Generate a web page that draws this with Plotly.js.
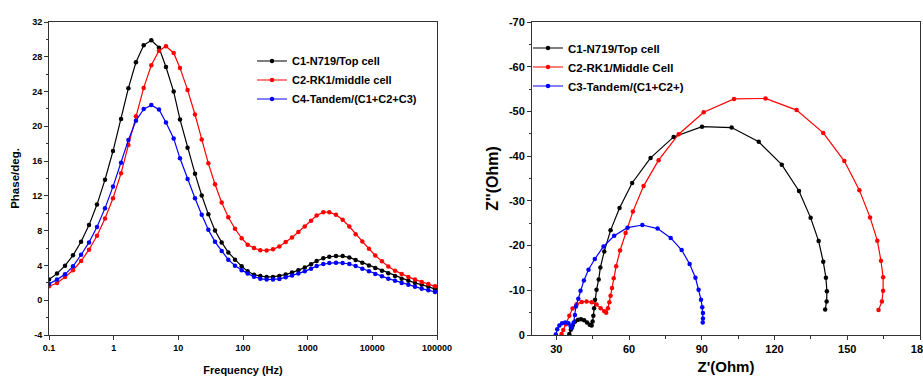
<!DOCTYPE html>
<html><head><meta charset="utf-8">
<script src="https://cdn.plot.ly/plotly-3.0.1.min.js"></script>
<style>html,body{margin:0;padding:0;background:#fff;}#chart{width:923px;height:376px;}</style>
</head><body><div id="chart"></div>
<script>
// ---- Bode (phase vs frequency) ----
const freqHz = [0.1,0.133,0.177,0.235,0.313,0.416,0.552,0.735,0.977,1.30,1.69,2.21,2.91,3.82,5.02,6.44,8.47,10.6,13.9,18.1,23.0,29.1,36.9,46.8,59.3,75.2,95.3,118,148,185,232,291,365,457,573,718,902,1127,1377,1746,2163,2742,3475,4406,5521,6998,8872,11117,14093,17660,22440,28445,36058,45709,57943,73451,93111];
const phaseTop = [2.37,3.06,3.97,5.16,6.73,8.64,11.0,13.87,17.16,20.83,24.39,27.37,29.32,29.89,29.05,26.83,24.0,20.79,17.54,14.56,12.04,9.9,8.02,6.65,5.5,4.66,3.9,3.32,2.94,2.78,2.68,2.68,2.8,2.95,3.18,3.45,3.75,4.15,4.52,4.83,5.0,5.08,5.08,4.92,4.63,4.32,4.0,3.71,3.4,3.09,2.79,2.48,2.25,1.99,1.79,1.56,1.28];
const phaseMiddle = [1.6,1.98,2.67,3.44,4.51,5.81,7.41,9.4,11.73,14.6,17.85,21.17,24.42,27.02,28.7,29.2,28.44,26.72,24.19,21.36,18.5,15.74,13.34,11.24,9.55,8.22,7.14,6.38,6.0,5.75,5.73,5.85,6.19,6.69,7.22,7.84,8.48,9.13,9.74,10.13,10.13,9.82,9.25,8.48,7.6,6.76,5.92,5.15,4.47,3.89,3.4,3.02,2.68,2.37,2.1,1.87,1.6];
const phaseTandem = [1.87,2.37,2.98,3.9,5.23,6.65,8.41,10.59,13.07,15.82,18.42,20.64,21.98,22.44,21.94,20.45,18.61,16.32,13.95,11.73,9.82,8.1,6.72,5.65,4.66,3.97,3.44,3.06,2.71,2.48,2.38,2.38,2.45,2.63,2.83,3.06,3.32,3.63,3.94,4.17,4.28,4.32,4.28,4.17,3.94,3.63,3.32,3.02,2.75,2.48,2.25,1.99,1.79,1.56,1.33,1.14,0.96];
const bodeNames = ['C1-N719/Top cell','C2-RK1/middle cell','C4-Tandem/(C1+C2+C3)'];

// ---- Nyquist (Z' vs Z'') ----
const zReTop = [35.4,36.0,36.8,37.8,39.0,40.2,41.5,42.7,43.8,44.6,45.0,45.3,45.6,46.0,46.6,47.5,48.2,49.8,52.4,56.1,61.3,68.9,78.4,90.1,102.3,113.5,123.0,130.1,134.9,138.2,140.1,141.2,141.6,141.5,140.9];
const zImTop = [-0.2,-1.2,-2.2,-3.0,-3.4,-3.5,-3.3,-2.8,-2.3,-2.1,-3.0,-4.3,-6.0,-7.9,-10.1,-12.4,-15.1,-18.7,-23.4,-28.4,-34.0,-39.6,-44.3,-46.6,-46.4,-43.2,-38.1,-32.2,-26.2,-21.0,-16.4,-12.8,-9.8,-7.5,-5.7];
const zReMiddle = [32.2,32.9,34.0,35.4,36.7,38.4,40.5,42.5,44.6,46.6,48.3,49.8,50.6,51.3,51.9,52.4,53.0,53.7,54.7,56.3,58.6,61.6,66.0,72.2,80.5,90.8,103.3,116.3,129.1,140.1,148.8,155.0,159.4,162.4,163.9,164.8,164.8,164.3,162.9];
const zImMiddle = [-0.2,-1.1,-2.4,-4.3,-5.9,-6.9,-7.4,-7.5,-7.3,-6.8,-6.0,-5.3,-5.0,-6.0,-7.3,-8.8,-10.5,-12.7,-15.4,-18.9,-22.8,-27.6,-33.3,-39.1,-44.9,-49.8,-52.8,-52.9,-50.3,-45.2,-38.9,-32.4,-26.3,-21.1,-16.6,-12.9,-9.9,-7.5,-5.6];
const zReTandem = [29.8,30.4,31.3,32.4,33.7,35.0,35.9,36.5,37.2,37.7,38.1,39.1,40.0,41.4,43.3,45.9,49.5,53.9,59.4,65.5,71.8,77.2,81.7,85.0,87.4,88.7,89.7,90.2,90.5,90.5,90.4];
const zImTandem = [-0.1,-1.3,-2.1,-2.6,-2.8,-2.6,-2.0,-1.6,-2.8,-4.5,-6.4,-8.1,-9.9,-12.2,-14.6,-17.0,-19.8,-22.2,-24.0,-24.6,-23.8,-21.7,-19.0,-15.9,-12.8,-10.1,-7.9,-6.2,-4.9,-3.7,-2.8];
const nyqNames = ['C1-N719/Top cell','C2-RK1/Middle Cell','C3-Tandem/(C1+C2+)'];

// ---- tick labels ----
const freqTickVals = [0.1,1,10,100,1000,10000,100000];
const freqTickText = ['0.1','1','10','100','1000','10000','100000'];
const phaseTickVals = [-4,0,4,8,12,16,20,24,28,32];
const phaseTickText = ['-4','0','4','8','12','16','20','24','28','32'];
const zReTickVals = [30,60,90,120,150,180];
const zReTickText = ['30','60','90','120','150','180'];
const zImTickVals = [0,-10,-20,-30,-40,-50,-60,-70];
const zImTickText = ['0','-10','-20','-30','-40','-50','-60','-70'];

const colors = ['#000000','#ff0000','#0000ff'];
const FONT = 'Liberation Sans, Arial, Helvetica, sans-serif';

function tr(x, y, name, i, xa, ya, lg) {
  return {x: x, y: y, name: name, type: 'scatter', mode: 'lines+markers',
    xaxis: xa, yaxis: ya, legend: lg,
    line: {color: colors[i], width: 1.2},
    marker: {color: colors[i], size: 4.5, symbol: 'circle'}};
}
const data = [
  tr(freqHz, phaseTop, bodeNames[0], 0, 'x', 'y', 'legend'),
  tr(freqHz, phaseMiddle, bodeNames[1], 1, 'x', 'y', 'legend'),
  tr(freqHz, phaseTandem, bodeNames[2], 2, 'x', 'y', 'legend'),
  tr(zReTop, zImTop, nyqNames[0], 0, 'x2', 'y2', 'legend2'),
  tr(zReMiddle, zImMiddle, nyqNames[1], 1, 'x2', 'y2', 'legend2'),
  tr(zReTandem, zImTandem, nyqNames[2], 2, 'x2', 'y2', 'legend2')
];

const ax = {showline: true, mirror: true, linecolor: '#333', linewidth: 1,
  ticks: 'outside', ticklen: 4, tickwidth: 1, tickcolor: '#333',
  showgrid: false, zeroline: false, tickmode: 'array', ticklabeloverflow: 'allow'};

const layout = {
  width: 923, height: 376,
  margin: {l: 0, r: 0, t: 22, b: 41, pad: 0},
  paper_bgcolor: '#fff', plot_bgcolor: '#fff',
  font: {family: FONT, color: '#000'},
  showlegend: true,
  xaxis: Object.assign({}, ax, {type: 'log', range: [-1, 5], domain: [49/923, 437/923], anchor: 'y',
    tickvals: freqTickVals, ticktext: freqTickText, tickfont: {size: 9, weight: 'bold'},
    title: {text: 'Frequency (Hz)', font: {size: 11, weight: 'bold'}, standoff: 14}}),
  yaxis: Object.assign({}, ax, {range: [-4, 32], anchor: 'x',
    tickvals: phaseTickVals, ticktext: phaseTickText, tickfont: {size: 9, weight: 'bold'},
    minor: {tickmode: 'linear', tick0: 0, dtick: 2, ticks: 'outside', ticklen: 2.5, tickcolor: '#333'},
    title: {text: 'Phase/deg.', font: {size: 11.5, weight: 'bold'}, standoff: 10}}),
  xaxis2: Object.assign({}, ax, {range: [20, 180], domain: [532/923, 920/923], anchor: 'y2',
    tickvals: zReTickVals, ticktext: zReTickText, tickfont: {size: 11, weight: 'bold'},
    minor: {tickmode: 'linear', tick0: 0, dtick: 15, ticks: 'outside', ticklen: 2.5, tickcolor: '#333'},
    title: {text: "Z'(Ohm)", font: {size: 15, weight: 'bold'}, standoff: 7}}),
  yaxis2: Object.assign({}, ax, {range: [0, -70], anchor: 'x2',
    tickvals: zImTickVals, ticktext: zImTickText, tickfont: {size: 11, weight: 'bold'},
    minor: {tickmode: 'linear', tick0: 0, dtick: 5, ticks: 'outside', ticklen: 2.5, tickcolor: '#333'},
    title: {text: "Z''(Ohm)", font: {size: 16, weight: 'bold'}, standoff: 6}}),
  legend: {x: 252/923, xanchor: 'left', y: 1 - (80-22)/313, yanchor: 'middle',
    bgcolor: 'rgba(0,0,0,0)', borderwidth: 0, font: {size: 11, weight: 'bold'}},
  legend2: {x: 528/923, xanchor: 'left', y: 1 - (67-22)/313, yanchor: 'middle',
    bgcolor: 'rgba(0,0,0,0)', borderwidth: 0, font: {size: 11.5, weight: 'bold'}}
};

Plotly.newPlot('chart', data, layout, {staticPlot: true, displayModeBar: false});
</script>
</body></html>
